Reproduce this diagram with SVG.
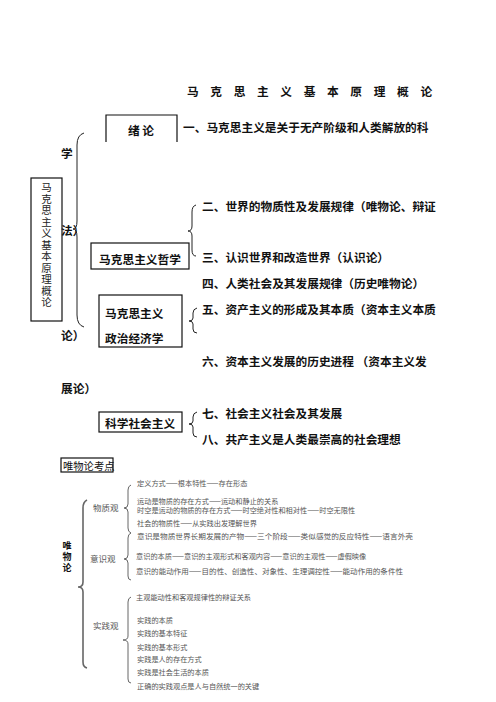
<svg xmlns="http://www.w3.org/2000/svg" width="496" height="702" viewBox="0 0 496 702">
<style>
text{font-family:"Noto Sans CJK SC","Noto Sans",sans-serif;dominant-baseline:central;}
.b{font-weight:bold;font-size:11.7px;fill:#111;}
.r{font-size:10.5px;fill:#222;}
.s{font-size:7.2px;fill:#555;}
.m{font-size:8.5px;fill:#555;}
.box{fill:none;stroke:#111;stroke-width:1.2;}
.br{fill:none;stroke:#222;stroke-width:1;}
.br2{fill:none;stroke:#666;stroke-width:1;}
.br3{fill:none;stroke:#666;stroke-width:1.6;}
</style>
<rect width="496" height="702" fill="#fff"/>
<text class="b" x="187" y="90" font-size="12" style="letter-spacing:11.65px">马克思主义基本原理概论</text>

<g id="n-intro">
<path class="box" d="M106,142 L106,115 L177,115 L177,142"/>
<text class="b" x="141" y="129" text-anchor="middle">绪 论</text>
</g>
<g id="n-root">
<rect class="box" x="31" y="178" width="31" height="143"/>
<text class="r" x="46.5" y="182" style="writing-mode:vertical-rl;letter-spacing:1px;dominant-baseline:auto">马克思主义基本原理概论</text>
</g>
<g id="n-phil">
<rect class="box" x="91" y="243" width="98" height="26"/>
<text class="b" x="140" y="258" text-anchor="middle">马克思主义哲学</text>
</g>
<g id="n-econ">
<rect class="box" x="99" y="295" width="83" height="52"/>
<text class="b" x="105" y="312">马克思主义</text>
<text class="b" x="105" y="337">政治经济学</text>
</g>
<g id="n-soc">
<rect class="box" x="99" y="412" width="83" height="20"/>
<text class="b" x="105" y="422" font-size="10.5">科学社会主义</text>
</g>

<g id="items">
<text class="b" x="183" y="126">一、马克思主义是关于无产阶级和人类解放的科</text>
<text class="b" x="61" y="152">学</text>
<text class="b" x="202" y="205">二、世界的物质性及发展规律（唯物论、辩证</text>
<text class="b" x="61" y="229">法）</text>
<text class="b" x="202" y="256">三、认识世界和改造世界（认识论）</text>
<text class="b" x="202" y="282">四、人类社会及其发展规律（历史唯物论）</text>
<text class="b" x="202" y="308">五、资产主义的形成及其本质（资本主义本质</text>
<text class="b" x="61" y="334">论）</text>
<text class="b" x="202" y="360">六、资本主义发展的历史进程 （资本主义发</text>
<text class="b" x="61" y="387">展论）</text>
<text class="b" x="202" y="412">七、社会主义社会及其发展</text>
<text class="b" x="202" y="438">八、共产主义是人类最崇高的社会理想</text>
</g>

<g id="n-kaodian">
<rect class="box" x="61" y="458" width="52" height="14"/>
<text x="63" y="465" font-size="10.3" fill="#111">唯物论考点</text>
</g>
<g id="n-wwl">
<text x="67" y="541" font-size="9" font-weight="bold" fill="#111" style="writing-mode:vertical-rl;letter-spacing:2px;dominant-baseline:auto">唯物论</text>
</g>
<g id="n-wzg"><text class="m" x="93" y="507">物质观</text></g>
<g id="n-ysg"><text class="m" x="90" y="558">意识观</text></g>
<g id="n-sjg"><text class="m" x="93" y="625">实践观</text></g>
<g id="leaves" class="s">
<text x="137" y="483">定义方式——根本特性——存在形态</text>
<text x="137" y="501">运动是物质的存在方式——运动和静止的关系</text>
<text x="137" y="510">时空是运动的物质的存在方式——时空绝对性和相对性——时空无限性</text>
<text x="137" y="523">社会的物质性——从实践出发理解世界</text>
<text x="137" y="536" textLength="276" lengthAdjust="spacingAndGlyphs">意识是物质世界长期发展的产物——三个阶段——类似感觉的反应特性——语言外壳</text>
<text x="136" y="556">意识的本质——意识的主观形式和客观内容——意识的主观性——虚假映像</text>
<text x="136" y="571" textLength="267" lengthAdjust="spacingAndGlyphs">意识的能动作用——目的性、创造性、对象性、生理调控性——能动作用的条件性</text>
<text x="136" y="597">主观能动性和客观规律性的辩证关系</text>
<text x="137" y="620">实践的本质</text>
<text x="137" y="633">实践的基本特征</text>
<text x="137" y="647">实践的基本形式</text>
<text x="137" y="659">实践是人的存在方式</text>
<text x="137" y="672">实践是社会生活的本质</text>
<text x="137" y="686">正确的实践观点是人与自然统一的关键</text>
</g>

<g id="connectors">
<path class="br" d="M84,133 Q77,135 77,145 L77,221 Q77,229 73,229 Q77,229 77,237 L77,315 Q77,325 84,327"/>
<path class="br" d="M196,205 Q192,206 192,212 L192,226 Q192,231 188,231 Q192,231 192,236 L192,250 Q192,256 196,256"/>
<path class="br" d="M197,308 Q193,309 193,313 L193,318 Q193,321 189,321 Q193,321 193,324 L193,329 Q193,333 197,333"/>
<path class="br" d="M197,412 Q193,413 193,417 L193,421 Q193,424 189,424 Q193,424 193,427 L193,433 Q193,437 197,437"/>
<path class="br2" d="M131,485 Q128,486 128,490 L128,504 Q128,508 124,508 Q128,508 128,512 L128,528 Q128,532 131,533"/>
<path class="br2" d="M131,533 Q128,534 128,538 L128,555 Q128,559 124,559 Q128,559 128,563 L128,576 Q128,580 131,580"/>
<path class="br2" d="M131,597 Q128,598 128,602 L128,636 Q128,640 123,640 Q128,640 128,644 L128,679 Q128,683 131,683"/>
<path class="br3" d="M87,500 Q83,502 83,508 L83,582 Q83,587 78,587 Q83,587 83,592 L83,662 Q83,667 87,668"/>
</g>
</svg>
